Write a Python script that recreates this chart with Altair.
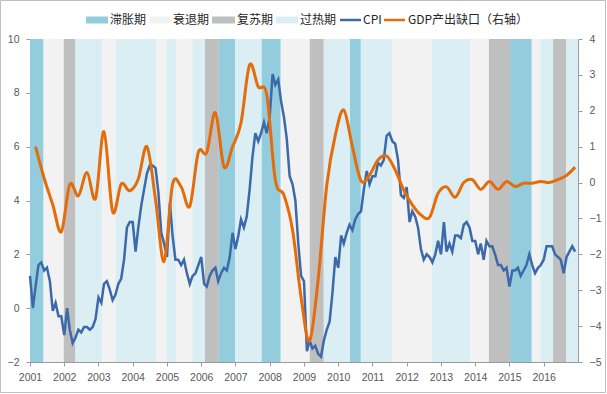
import altair as alt
import pandas as pd

# ---------------- data ----------------
cpi = [
    1.2, 0.0, 0.8, 1.6, 1.7, 1.4, 1.5, 1.0, -0.1, 0.2, -0.3, -0.3,
    -1.0, 0.0, -0.8, -1.3, -1.1, -0.8, -0.9, -0.7, -0.7, -0.8, -0.7, -0.4,
    0.4, 0.2, 0.9, 1.0, 0.7, 0.3, 0.5, 0.9, 1.1, 1.8, 3.0, 3.2,
    3.2, 2.1, 3.0, 3.8, 4.4, 5.0, 5.3, 5.3, 5.2, 4.3, 2.8, 2.4,
    1.9, 3.9, 2.7, 1.8, 1.8, 1.6, 1.8, 1.3, 0.9, 1.2, 1.3, 1.6,
    1.9, 0.9, 0.8, 1.2, 1.4, 1.5, 1.0, 1.3, 1.5, 1.4, 1.9, 2.8,
    2.2, 2.7, 3.3, 3.0, 3.4, 4.4, 5.6, 6.5, 6.2, 6.5, 6.9, 6.5,
    7.1, 8.7, 8.3, 8.5, 7.7, 7.1, 6.3, 4.9, 4.6, 4.0, 2.4, 1.2,
    1.0, -1.6, -1.2, -1.5, -1.4, -1.7, -1.8, -1.2, -0.8, -0.5, 0.6, 1.9,
    1.5, 2.7, 2.4, 2.8, 3.1, 2.9, 3.3, 3.5, 3.6, 4.4, 5.1, 4.6,
    4.9, 4.9, 5.4, 5.3, 5.5, 6.4, 6.5, 6.2, 6.1, 5.5, 4.2, 4.1,
    4.5, 3.2, 3.6, 3.4, 3.0, 2.2, 1.8, 2.0, 1.9, 1.7, 2.0, 2.5,
    2.0, 3.2, 2.1, 2.4, 2.1, 2.7, 2.7, 2.6, 3.1, 3.2, 3.0, 2.5,
    2.5, 2.0, 2.4, 1.8, 2.5, 2.3, 2.3, 2.0, 1.6, 1.6, 1.4, 1.5,
    0.8, 1.4, 1.4, 1.5, 1.2, 1.4, 1.6, 2.0, 1.6, 1.3, 1.5, 1.6,
    1.8, 2.3, 2.3, 2.3, 2.0, 1.9, 1.8, 1.3, 1.9, 2.1, 2.3, 2.1,
]
cpi_dates = [d.strftime("%Y-%m-%d") for d in pd.date_range("2001-01-01", periods=len(cpi), freq="MS")]

gdp_gap = [
    1.0, 0.12, -0.62, -1.37,
    -0.05, -0.37, 0.28, -0.44,
    1.42, -0.81, -0.04, -0.23,
    0.1, 1.0, -0.48, -2.2,
    -0.05, -0.12, -0.66, 0.84,
    0.84, 1.95, 0.44, 1.0,
    1.66, 3.28, 2.67, 2.44,
    0.07, -0.35, -1.32, -3.2,
    -4.42, -2.7, -0.07, 1.32,
    2.02, 1.0, 0.05, 0.21,
    0.63, 0.74, 0.35, -0.21,
    -0.62, -0.9, -0.97, -0.3,
    -0.12, -0.41, 0.0, 0.08,
    -0.19, 0.03, -0.19, 0.03,
    -0.11, -0.02, -0.02, 0.03,
    0.0, 0.08, 0.2, 0.43,
]
gdp_dates = [d.strftime("%Y-%m-%d") for d in pd.date_range("2001-03-01", periods=len(gdp_gap), freq="3MS")]

phase_names = ["滞胀期", "衰退期", "复苏期", "过热期"]
phase_colors = ["#93CDDD", "#F2F2F2", "#BFBFBF", "#DAEEF3"]

band_phase = [
    "滞胀期", "衰退期", "复苏期", "过热期", "衰退期", "过热期", "衰退期",
    "过热期", "衰退期", "过热期", "复苏期", "滞胀期", "过热期", "滞胀期",
    "衰退期", "复苏期", "过热期", "滞胀期", "过热期", "衰退期", "过热期",
    "衰退期", "复苏期", "滞胀期", "衰退期", "过热期", "复苏期", "过热期",
]
band_start = [
    "2001-01-01", "2001-05-26", "2001-12-27", "2002-04-30", "2003-02-10",
    "2003-07-01", "2004-09-09", "2004-12-25", "2005-04-10", "2005-09-28",
    "2006-02-10", "2006-07-08", "2006-12-27", "2007-10-08", "2008-04-28",
    "2009-03-03", "2009-07-31", "2010-05-07", "2010-08-30", "2011-08-04",
    "2012-09-27", "2013-11-07", "2014-05-27", "2015-01-08", "2015-08-27",
    "2015-11-27", "2016-04-10", "2016-08-28",
]
band_end = band_start[1:] + ["2017-01-01"]

years = list(range(2001, 2017))

cpi_df = pd.DataFrame({"date": cpi_dates, "CPI": cpi})
gdp_df = pd.DataFrame({"date": gdp_dates, "gap": gdp_gap})
band_df = pd.DataFrame({"start": band_start, "end": band_end, "phase": band_phase})

# ---------------- layout ----------------
W, H = 548, 323
FONT = "Liberation Sans"
CJK = "Noto Sans CJK SC"
AX_COLOR = "#9A9A9A"
LBL_COLOR = "#595959"

x_scale = alt.Scale(
    type="utc",
    domain=[alt.DateTime(year=2001, month=1, date=1, utc=True),
            alt.DateTime(year=2017, month=1, date=1, utc=True)],
)
x_axis = alt.Axis(
    title=None,
    values=[alt.DateTime(year=y, month=1, date=1, utc=True) for y in years],
    labelExpr="utcFormat(datum.value, '%Y')",
    labelOverlap=False, labelFlush=False,
    grid=False, domainColor=AX_COLOR, tickColor=AX_COLOR, tickSize=4,
    labelPadding=6, labelColor=LBL_COLOR, labelFont=FONT, labelFontSize=10.5,
)

bands = alt.Chart(band_df).mark_rect().encode(
    x=alt.X("start:T", scale=x_scale, axis=x_axis),
    x2="end:T",
    y=alt.value(0),
    y2=alt.value(H),
    color=alt.Color("phase:N", scale=alt.Scale(domain=phase_names, range=phase_colors), legend=None),
)

cpi_line = alt.Chart(cpi_df).mark_line(color="#3C69A9", strokeWidth=2.5).encode(
    x=alt.X("date:T", scale=x_scale, axis=x_axis),
    y=alt.Y("CPI:Q", scale=alt.Scale(domain=[-2, 10], nice=False, zero=False),
            axis=alt.Axis(title=None, orient="left", values=list(range(-2, 11, 2)),
                          grid=False, domainColor=AX_COLOR, tickColor=AX_COLOR,
                          tickSize=4, labelPadding=7, labelColor=LBL_COLOR,
                          labelFont=FONT, labelFontSize=10.5)),
)

gdp_line = alt.Chart(gdp_df).mark_line(color="#E46C0A", strokeWidth=3, interpolate="cardinal").encode(
    x=alt.X("date:T", scale=x_scale, axis=x_axis),
    y=alt.Y("gap:Q", scale=alt.Scale(domain=[-5, 4], nice=False, zero=False),
            axis=alt.Axis(title=None, orient="right", values=list(range(-5, 5)),
                          grid=False, domainColor=AX_COLOR, tickColor=AX_COLOR,
                          tickSize=4, labelPadding=7, labelColor=LBL_COLOR,
                          labelFont=FONT, labelFontSize=10.5)),
)

# ---------------- manual legend ----------------
legend_labels = phase_names + ["CPI", "GDP产出缺口（右轴）"]
legend_kind = ["rect"] * 4 + ["line"] * 2
legend_colors = phase_colors + ["#3C69A9", "#E46C0A"]
legend_x0 = [56, 119, 182, 246, 310, 354]
legend_x1 = [78, 141, 205, 268, 331, 375]
legend_tx = [80, 143, 207, 270, 333, 378]
LEG_Y = -19

legend_layers = []
for lab, kind, col, a, b, t in zip(legend_labels, legend_kind, legend_colors, legend_x0, legend_x1, legend_tx):
    d = pd.DataFrame({"label": [lab]})
    if kind == "rect":
        sw = alt.Chart(d).mark_rect(color=col).encode(
            x=alt.value(a), x2=alt.value(b), y=alt.value(LEG_Y - 3.5), y2=alt.value(LEG_Y + 3.5))
    else:
        sw = alt.Chart(d).mark_rule(color=col, strokeWidth=2.5).encode(
            x=alt.value(a), x2=alt.value(b), y=alt.value(LEG_Y))
    tx = alt.Chart(d).mark_text(align="left", baseline="middle", font=CJK, fontSize=12,
                                color="#262626").encode(
        x=alt.value(t), y=alt.value(LEG_Y), text="label:N")
    legend_layers += [sw, tx]

border = alt.Chart(pd.DataFrame({"k": [0]})).mark_rect(
    filled=False, stroke="#BFBFBF", strokeWidth=1).encode(
    x=alt.value(-29.5), x2=alt.value(575.5), y=alt.value(-38.5), y2=alt.value(353.5))

chart = alt.layer(bands, cpi_line, gdp_line, *legend_layers, border).resolve_scale(
    y="independent"
).properties(
    width=W, height=H,
    padding={"left": 30, "top": 39, "right": 29, "bottom": 32},
    autosize="none",
    background="white",
).configure_view(stroke=None)

chart.save("out.html", embed_options={"renderer": "svg", "actions": False})
